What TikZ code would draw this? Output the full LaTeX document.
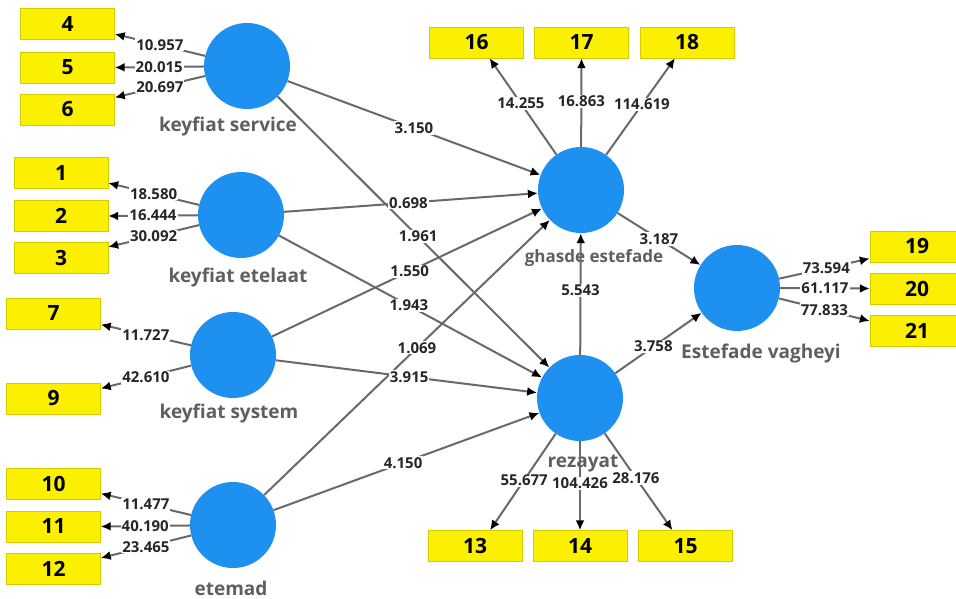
\documentclass[tikz,border=0pt]{standalone}
\usepackage{fontspec}
\setmainfont{Open Sans}
\usetikzlibrary{arrows.meta,calc}
\definecolor{lvblue}{RGB}{30,144,240}
\definecolor{mvyellow}{RGB}{250,240,0}
\definecolor{edgegray}{RGB}{105,105,105}
\definecolor{lvtext}{RGB}{95,95,95}
\begin{document}
\begin{tikzpicture}[x=1pt,y=-1pt,
  lv/.style={circle,fill=lvblue,minimum size=86pt,inner sep=0pt},
  mv/.style={rectangle,fill=mvyellow,draw=mvyellow!85!black,line width=0.4pt,minimum width=94pt,minimum height=31pt,inner sep=0pt,font=\fontsize{21}{21}\selectfont\bfseries},
  lvlabel/.style={text=lvtext,font=\fontsize{19}{19}\selectfont\bfseries},
  coef/.style={fill=white,inner sep=1pt,font=\fontsize{15}{15}\selectfont\bfseries,text=black!85},
  arr/.style={draw=edgegray,line width=2pt,-{Latex[color=black,length=10pt,width=9pt]}},
]
\useasboundingbox[fill=white] (0,0) rectangle (956,599);

% latent variables
\node[lv] (ks)  at (247,66)  {};
\node[lv] (ke)  at (241,215) {};
\node[lv] (ksy) at (233,355) {};
\node[lv] (et)  at (233,525) {};
\node[lv] (gh)  at (581,190) {};
\node[lv] (rz)  at (580,398) {};
\node[lv] (es)  at (737,288) {};

\node[lvlabel] (ksl)  at (228,127) {keyfiat service};
\node[lvlabel] (kel)  at (238,278) {keyfiat etelaat};
\node[lvlabel] (ksyl) at (229,414) {keyfiat system};
\node[lvlabel] (etl)  at (231,588) {etemad};
\node[lvlabel,font=\fontsize{17}{17}\selectfont\bfseries] (ghl) at (594,258) {ghasde estefade};
\node[lvlabel] (rzl)  at (583,463) {rezayat};
\node[lvlabel] (esl)  at (761,354) {Estefade vagheyi};

% indicators
\node[mv] (b4)  at (67.5,24)   {4};
\node[mv] (b5)  at (67.5,67.5) {5};
\node[mv] (b6)  at (67.5,109.5){6};
\node[mv] (b1)  at (61,173)    {1};
\node[mv] (b2)  at (61,216)    {2};
\node[mv] (b3)  at (61,258)    {3};
\node[mv] (b7)  at (53.5,313.5){7};
\node[mv] (b9)  at (53.5,398.5){9};
\node[mv] (b10) at (53.5,483.5){10};
\node[mv] (b11) at (53.5,526.5){11};
\node[mv] (b12) at (53.5,569)  {12};
\node[mv] (b16) at (476.5,42.5){16};
\node[mv] (b17) at (581.5,42.5){17};
\node[mv] (b18) at (687,42.5)  {18};
\node[mv] (b13) at (475,546)   {13};
\node[mv] (b14) at (580,546)   {14};
\node[mv] (b15) at (685.5,546) {15};
\node[mv] (b19) at (917,246.5) {19};
\node[mv] (b20) at (917,288.5) {20};
\node[mv] (b21) at (917,331)   {21};

% arrow targets on indicator boxes
\coordinate (t4)  at ($(b4.east)+(0,10)$);
\coordinate (t5)  at (b5.east);
\coordinate (t6)  at ($(b6.east)+(0,-12)$);
\coordinate (t1)  at ($(b1.east)+(0,10)$);
\coordinate (t2)  at (b2.east);
\coordinate (t3)  at ($(b3.east)+(0,-11)$);
\coordinate (t7)  at ($(b7.east)+(0,11)$);
\coordinate (t9)  at ($(b9.east)+(0,-10)$);
\coordinate (t10) at ($(b10.east)+(0,10)$);
\coordinate (t11) at (b11.east);
\coordinate (t12) at ($(b12.east)+(0,-11)$);
\coordinate (t16) at ($(b16.south)+(13,0)$);
\coordinate (t17) at (b17.south);
\coordinate (t18) at ($(b18.south)+(-12,0)$);
\coordinate (t13) at ($(b13.north)+(15,0)$);
\coordinate (t14) at (b14.north);
\coordinate (t15) at ($(b15.north)+(-13,0)$);
\coordinate (t19) at ($(b19.west)+(0,12)$);
\coordinate (t20) at (b20.west);
\coordinate (t21) at ($(b21.west)+(0,-10)$);

\def\edgelist{ks/t4/10.957/0.5, ks/t5/20.015/0.5, ks/t6/20.697/0.5,
  ke/t1/18.580/0.5, ke/t2/16.444/0.5, ke/t3/30.092/0.5,
  ksy/t7/11.727/0.5, ksy/t9/42.610/0.5,
  et/t10/11.477/0.5, et/t11/40.190/0.5, et/t12/23.465/0.5,
  gh/t16/14.255/0.53, gh/t17/16.863/0.51, gh/t18/114.619/0.52,
  rz/t13/55.677/0.48, rz/t14/104.426/0.47, rz/t15/28.176/0.46,
  es/t19/73.594/0.52, es/t20/61.117/0.5, es/t21/77.833/0.5,
  ks/gh/3.150/0.5, ke/gh/0.698/0.49, ksy/gh/1.550/0.51, et/gh/1.069/0.535,
  ks/rz/1.961/0.517, ke/rz/1.943/0.494, ksy/rz/3.915/0.51, et/rz/4.150/0.487,
  rz/gh/5.543/0.53, gh/es/3.187/0.5, rz/es/3.758/0.44}

\foreach \s/\t/\l/\p in \edgelist {\draw[arr] (\s) -- (\t);}
\foreach \s/\t/\l/\p [count=\i] in \edgelist {\path (\s) -- node[coef,pos=\p] (coef\i) {\l} (\t);}
\end{tikzpicture}
\end{document}
